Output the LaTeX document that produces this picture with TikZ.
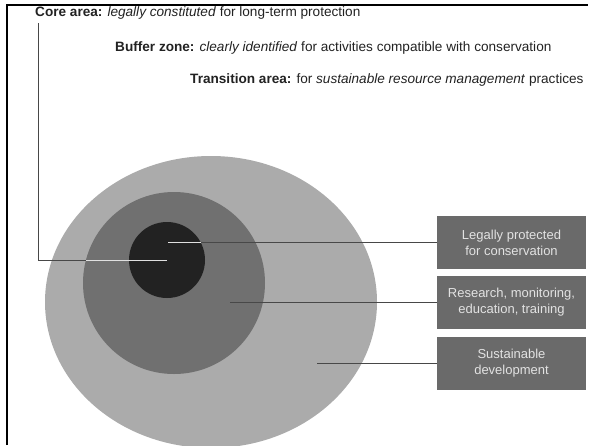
\documentclass[tikz,border=0pt]{standalone}
\usepackage{fontspec}
\setmainfont{Liberation Sans}
\definecolor{outerzone}{HTML}{ABABAB}
\definecolor{bufferzone}{HTML}{707070}
\definecolor{corezone}{HTML}{222222}
\definecolor{boxfill}{HTML}{6A6A6A}
\definecolor{boxtext}{HTML}{E2E2E2}
\definecolor{linedark}{HTML}{484848}
\begin{document}
\begin{tikzpicture}[x=1pt,y=-1pt,
		toptext/.style={anchor=west,inner sep=0pt,text=corezone,font=\fontsize{13.6}{16}\selectfont},
		zonebox/.style={fill=boxfill,text=boxtext,minimum width=149pt,minimum height=53pt,align=center,inner sep=0pt,font=\fontsize{13}{16}\selectfont},
		conn/.style={linedark,line width=1pt},
		connw/.style={white!88!black,line width=1pt}]
		\useasboundingbox (0,0) rectangle (592,445);
		\draw [line width=2pt] (7,445) -- (7,5) -- (588,5);
		\fill [outerzone] (211,302) ellipse (166 and 146);
		\fill [bufferzone] (174,283) circle (91);
		\fill [corezone] (167,260) circle (38);
		\node [toptext] (core) at (35,13) {\textbf{Core area:} \textit{legally constituted} for long-term protection};
		\node [toptext] (buffer) at (115,48) {\textbf{Buffer zone:} \textit{clearly identified} for activities compatible with conservation};
		\node [toptext] (trans) at (190,80) {\textbf{Transition area:} for \textit{sustainable resource management} practices};
		\node [zonebox] (legal) at (511.5,242.5) {Legally protected\\for conservation};
		\node [zonebox] (research) at (511.5,302.5) {Research, monitoring,\\education, training};
		\node [zonebox] (sustain) at (511.5,363.5) {Sustainable\\development};
		\coordinate (coretop) at (38,23);
		\coordinate (coreend) at (167,260);
		\coordinate (coreedge) at (86,260);
		\coordinate (legalend) at (168,242.5);
		\coordinate (legaledge) at (201,242.5);
		\coordinate (researchend) at (230,302.5);
		\coordinate (sustainend) at (317,363.5);
		\draw [conn] (coretop) |- (coreend);
		\draw [connw] (coreedge) -- (coreend);
		\draw [conn] (legal.west) -- (legalend);
		\draw [connw] (legaledge) -- (legalend);
		\draw [conn] (research.west) -- (researchend);
		\draw [conn] (sustain.west) -- (sustainend);
	\end{tikzpicture}
\end{document}
